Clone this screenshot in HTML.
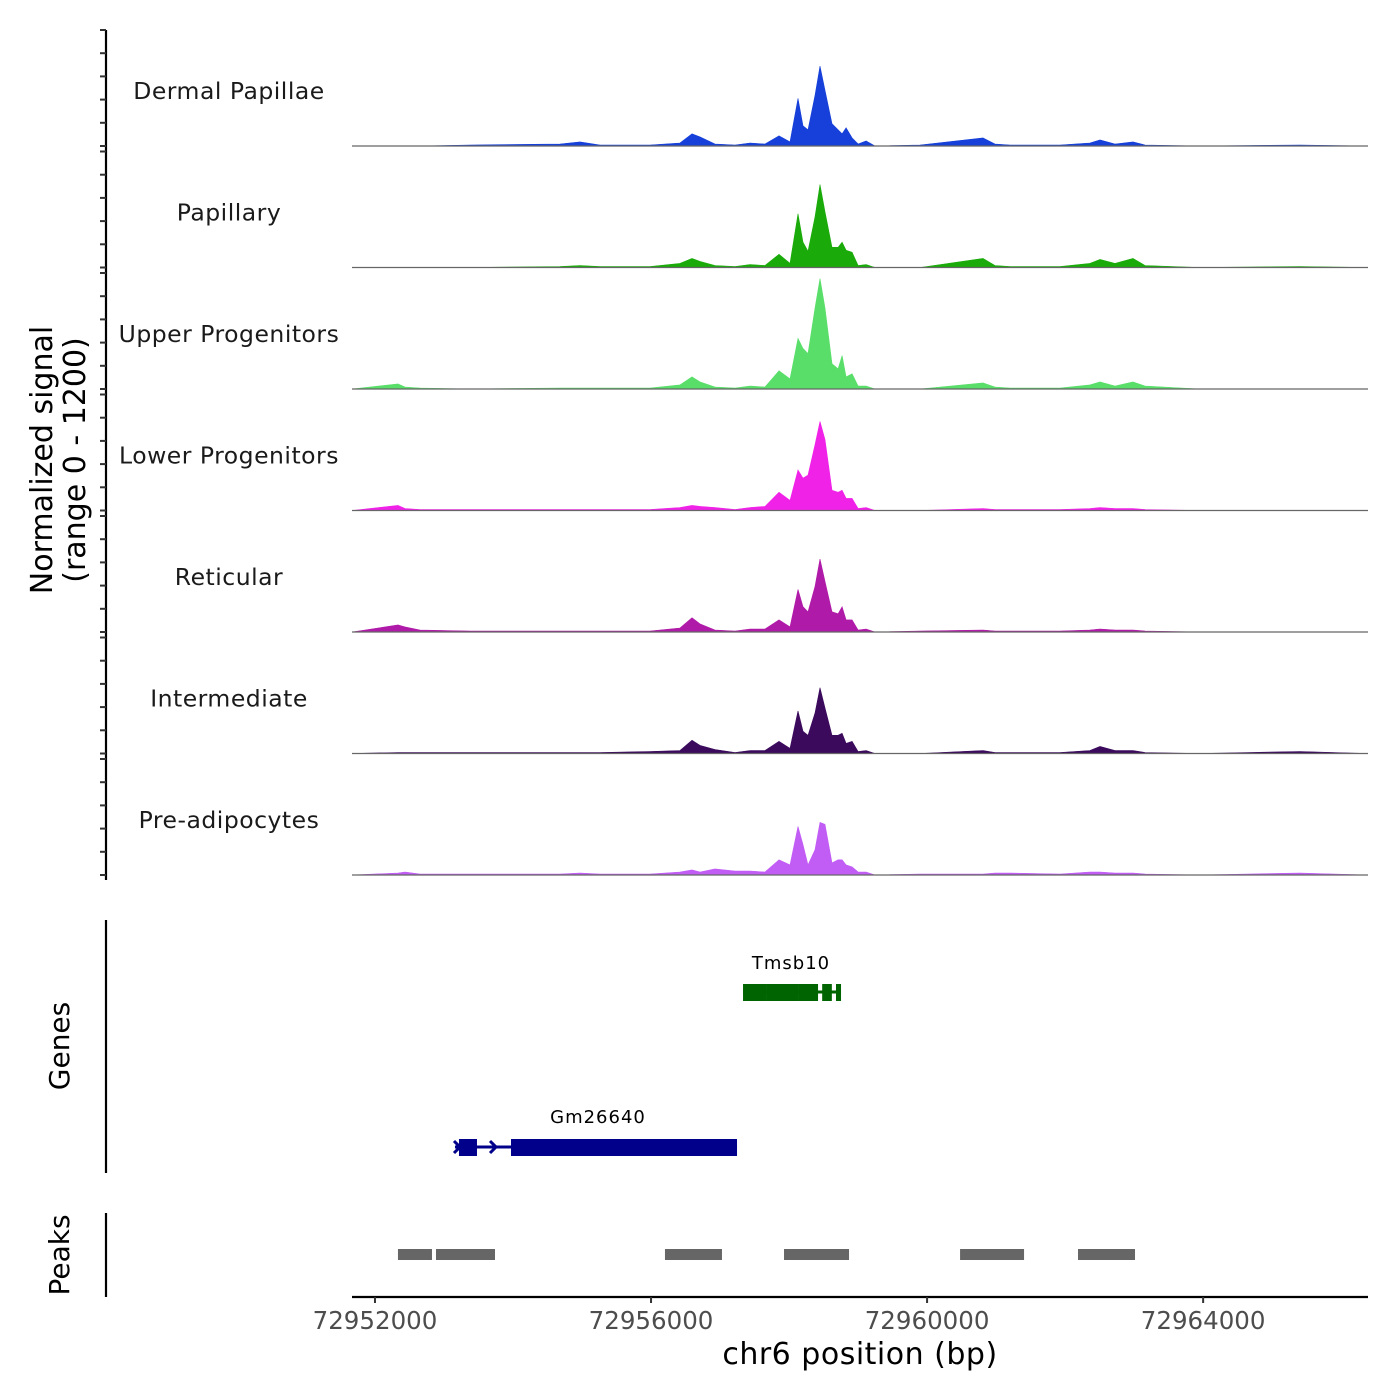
<!DOCTYPE html>
<html><head><meta charset="utf-8">
<style>
html,body{margin:0;padding:0;background:#fff;}
svg{display:block;font-family:"DejaVu Sans","Liberation Sans",sans-serif;}
</style></head>
<body>
<svg id="chart" width="1400" height="1400" viewBox="0 0 1400 1400"></svg>
<script>
const positions=[72951667,72952333,72952435,72952652,72953377,72954681,72954971,72955261,72955985,72956420,72956594,72956710,72956927,72957217,72957435,72957652,72957855,72958014,72958130,72958202,72958274,72958376,72958448,72958521,72958622,72958710,72958768,72958826,72958913,72959000,72959116,72959246,72959897,72960810,72960984,72961202,72961926,72962360,72962505,72962723,72962984,72963158,72963955,72965404,72966389];
const trackNames=["Dermal Papillae","Papillary","Upper Progenitors","Lower Progenitors","Reticular","Intermediate","Pre-adipocytes"];
const trackColors=["#1640d9","#1aab0a","#5ade6a","#f022e8","#b01aa8","#3b0a5c","#c15cf5"];
const sigDP=[0,0,0,0,10,20,40,10,10,30,120,90,20,10,30,20,100,40,470,200,160,500,790,550,220,160,120,180,80,20,50,0,10,80,20,10,10,30,60,20,40,10,0,10,0];
const sigPap=[0,0,0,0,0,10,20,10,10,40,90,60,20,10,30,20,130,40,530,250,160,500,820,550,200,200,250,170,150,20,30,0,0,90,20,10,10,40,80,40,90,20,0,10,0];
const sigUpper=[0,50,20,10,0,10,10,10,10,40,120,70,20,10,30,20,180,100,500,400,350,800,1090,800,250,200,330,120,150,30,30,0,0,60,20,10,10,40,70,30,70,30,0,0,0];
const sigLower=[0,50,20,10,10,10,10,10,10,30,50,40,30,10,30,40,180,100,400,320,350,650,880,700,200,180,200,120,120,20,30,0,0,20,10,10,10,20,30,20,20,10,0,0,0];
const sigRet=[0,70,50,20,10,10,10,10,10,40,140,80,20,10,30,30,120,50,420,250,200,450,720,500,200,180,250,120,120,20,30,0,10,20,10,10,10,20,30,20,20,10,0,0,0];
const sigInt=[0,10,10,10,10,10,10,10,20,30,130,80,40,10,30,30,120,50,420,220,180,400,650,450,180,180,200,100,120,20,30,0,0,30,10,10,10,30,70,30,30,10,0,20,0];
const sigPre=[0,20,30,10,10,10,20,10,10,30,50,30,60,40,40,30,150,100,480,300,100,250,520,500,120,150,150,100,80,30,30,0,10,10,20,20,10,30,30,20,20,10,0,20,0];
const signals=[sigDP,sigPap,sigUpper,sigLower,sigRet,sigInt,sigPre];
const xTicks=[72952000,72956000,72960000,72964000];
const peakStarts=[72952333,72952884,72956202,72957927,72960478,72962187];
const peakEnds=[72952826,72953739,72957028,72958869,72961405,72963013];

const NS="http://www.w3.org/2000/svg";
const svg=document.getElementById('chart');
function el(tag,attrs,parent){const e=document.createElementNS(NS,tag);for(const k in attrs)e.setAttribute(k,attrs[k]);(parent||svg).appendChild(e);return e;}
const X0=352,X1=1368,BP0=72951667,BP1=72966389;
function xs(bp){return X0+(bp-BP0)*(X1-X0)/(BP1-BP0);}
const trackH=121.5, firstBase=146, yMax=1200;
function ys(v,base){return base - v*trackH/yMax;}

let ax=el('line',{x1:106,y1:30,x2:106,y2:880,stroke:'#000','stroke-width':2.2});


for(let t=0;t<7;t++){
  const base=firstBase+t*trackH;
  for(let k=0;k<=5;k++){
    const tk=el('line',{x1:100,x2:106,y1:base-k*23.2,y2:base-k*23.2,stroke:'#333','stroke-width':2});
    
    
  }
}
signals.forEach((sig,t)=>{
  const base=firstBase+t*trackH;
  const g=el('g',{});
  
  
  let d='M'+xs(positions[0])+','+base;
  positions.forEach((p,i)=>{d+=' L'+xs(p).toFixed(1)+','+ys(sig[i],base).toFixed(1);});
  d+=' L'+xs(positions[positions.length-1])+','+base+' Z';
  const a=el('path',{d:d,fill:trackColors[t],stroke:trackColors[t],'stroke-width':0.6},g);
  
  
  const bl=el('line',{x1:X0,x2:X1,y1:base,y2:base,stroke:'#666','stroke-width':1.2},g);
  
  
  const lb=el('text',{x:229,y:base-47,'text-anchor':'middle','font-size':23.5,fill:'#1a1a1a','letter-spacing':'0.5'},g);
  lb.textContent=trackNames[t];
  
  
});
const yt=el('text',{transform:'translate(52,460) rotate(-90)','text-anchor':'middle','font-size':30,fill:'#000'});


yt.innerHTML='<tspan x="0" dy="0">Normalized signal</tspan><tspan x="0" dy="33">(range 0 - 1200)</tspan>';

const ga=el('line',{x1:106,y1:920,x2:106,y2:1173,stroke:'#000','stroke-width':2.2});


const gt=el('text',{transform:'translate(69,1046) rotate(-90)','text-anchor':'middle','font-size':28,fill:'#000'});
gt.textContent='Genes';


const tg=el('g',{});


el('line',{x1:xs(72957333),x2:xs(72958753),y1:992,y2:992,stroke:'#006400','stroke-width':3},tg);
[[72957333,72957680],[72957680,72958130],[72958130,72958420],[72958480,72958620],[72958680,72958753]].forEach(e=>{
  el('rect',{x:xs(e[0]),y:984,width:xs(e[1])-xs(e[0]),height:17,fill:'#006400'},tg);
});
const tl=el('text',{x:791,y:969,'text-anchor':'middle','font-size':18,fill:'#000','letter-spacing':'1'},tg);
tl.textContent='Tmsb10';
const gg=el('g',{});


el('line',{x1:xs(72953159),x2:xs(72957246),y1:1147,y2:1147,stroke:'#00008b','stroke-width':3},gg);
el('rect',{x:xs(72953217),y:1139,width:xs(72953478)-xs(72953217),height:17,fill:'#00008b'},gg);
el('rect',{x:xs(72953971),y:1139,width:xs(72957246)-xs(72953971),height:17,fill:'#00008b'},gg);
el('path',{d:'M454,1141 L460,1147 L454,1153 M490,1141 L496,1147 L490,1153',stroke:'#00008b','stroke-width':3,fill:'none'},gg);
const gl=el('text',{x:598,y:1123,'text-anchor':'middle','font-size':18,fill:'#000','letter-spacing':'1'},gg);
gl.textContent='Gm26640';

const pa=el('line',{x1:106,y1:1213,x2:106,y2:1297,stroke:'#000','stroke-width':2.2});


const pt=el('text',{transform:'translate(69,1255) rotate(-90)','text-anchor':'middle','font-size':28,fill:'#000'});
pt.textContent='Peaks';


peakStarts.forEach((s,i)=>{
  const r=el('rect',{x:xs(s),y:1249,width:xs(peakEnds[i])-xs(s),height:11,fill:'#666'});
  
  
});

const xa=el('line',{x1:X0,x2:X1,y1:1297,y2:1297,stroke:'#000','stroke-width':2.2});


xTicks.forEach(v=>{
  const tk=el('line',{x1:xs(v),x2:xs(v),y1:1297,y2:1303,stroke:'#333','stroke-width':2});
  
  
  const tx=el('text',{x:xs(v),y:1329,'text-anchor':'middle','font-size':24.5,fill:'#4d4d4d'});
  tx.textContent=String(v);
  
  
});
const xt=el('text',{x:860,y:1364,'text-anchor':'middle','font-size':30,fill:'#000','letter-spacing':'0.5'});
xt.textContent='chr6 position (bp)';


</script>
</body></html>
